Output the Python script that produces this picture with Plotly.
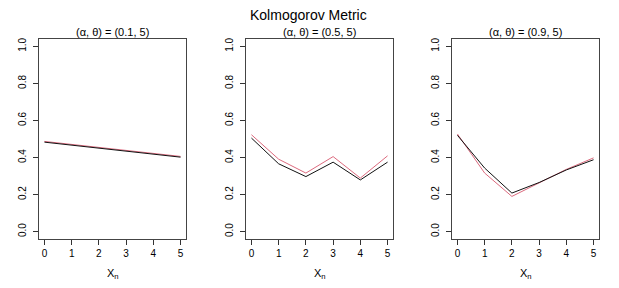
import plotly.graph_objects as go

x_vals = [0, 1, 2, 3, 4, 5]
panel_titles = ["(α, θ) = (0.1, 5)", "(α, θ) = (0.5, 5)", "(α, θ) = (0.9, 5)"]
black_1 = [0.483, 0.467, 0.451, 0.435, 0.419, 0.402]
pink_1 = [0.487, 0.471, 0.455, 0.439, 0.423, 0.406]
black_2 = [0.505, 0.366, 0.297, 0.375, 0.279, 0.375]
pink_2 = [0.523, 0.391, 0.316, 0.405, 0.289, 0.409]
black_3 = [0.520, 0.343, 0.208, 0.265, 0.333, 0.388]
pink_3 = [0.527, 0.316, 0.190, 0.265, 0.336, 0.398]
y_ticks = [0.0, 0.2, 0.4, 0.6, 0.8, 1.0]

OFF = 8  # page body margin
W, H = 619 - OFF, 288 - OFF
panels_px = [(39, 186), (246, 393), (452, 599)]
top_px, bot_px = 39, 239
FONT = "Liberation Sans, Arial, Helvetica, sans-serif"


def px(v):
    return (v - OFF) / W


def py(v):
    return 1 - (v - OFF) / H


fig = go.Figure()
blacks = [black_1, black_2, black_3]
pinks = [pink_1, pink_2, pink_3]
for i in range(3):
    sfx = "" if i == 0 else str(i + 1)
    fig.add_trace(go.Scatter(x=x_vals, y=pinks[i], mode="lines",
                             line=dict(color="#DC6A7E", width=1),
                             xaxis="x" + sfx, yaxis="y" + sfx, showlegend=False))
    fig.add_trace(go.Scatter(x=x_vals, y=blacks[i], mode="lines",
                             line=dict(color="#111111", width=1),
                             xaxis="x" + sfx, yaxis="y" + sfx, showlegend=False))
    x0, x1 = panels_px[i]
    xd = [px(x0), px(x1)]
    yd = [py(bot_px), py(top_px)]
    fig.update_layout(**{
        "xaxis" + sfx: dict(domain=xd, range=[-0.2, 5.2], tickvals=x_vals,
                            ticks="outside", ticklen=5, tickcolor="#333",
                            showline=True, linecolor="#444", linewidth=1, mirror=True,
                            showgrid=False, zeroline=False,
                            tickfont=dict(size=10, color="#000", family=FONT),
                            anchor="y" + sfx),
        "yaxis" + sfx: dict(domain=yd, range=[-0.04, 1.04], tickvals=y_ticks,
                            ticktext=[f"{v:.1f}" for v in y_ticks],
                            ticks="outside", ticklen=5, tickcolor="#333", tickangle=-90,
                            ticklabelstandoff=3,
                            showline=True, linecolor="#444", linewidth=1, mirror=True,
                            showgrid=False, zeroline=False,
                            tickfont=dict(size=10, color="#000", family=FONT),
                            anchor="x" + sfx),
    })
    fig.add_annotation(text=panel_titles[i], x=px((x0 + x1) / 2), y=py(32),
                       xref="paper", yref="paper", showarrow=False,
                       font=dict(size=11, color="#000", family=FONT),
                       xanchor="center", yanchor="middle")
    fig.add_annotation(text="X<sub>n</sub>", x=px((x0 + x1) / 2), y=py(274),
                       xref="paper", yref="paper", showarrow=False,
                       font=dict(size=11, color="#000", family=FONT),
                       xanchor="center", yanchor="middle")

fig.add_annotation(text="Kolmogorov Metric", x=px(308), y=py(15),
                   xref="paper", yref="paper", showarrow=False,
                   font=dict(size=14, color="#000", family=FONT),
                   xanchor="center", yanchor="middle")

fig.update_layout(width=W, height=H, margin=dict(l=0, r=0, t=0, b=0),
                  paper_bgcolor="white", plot_bgcolor="white")
fig.write_html("out.html")
